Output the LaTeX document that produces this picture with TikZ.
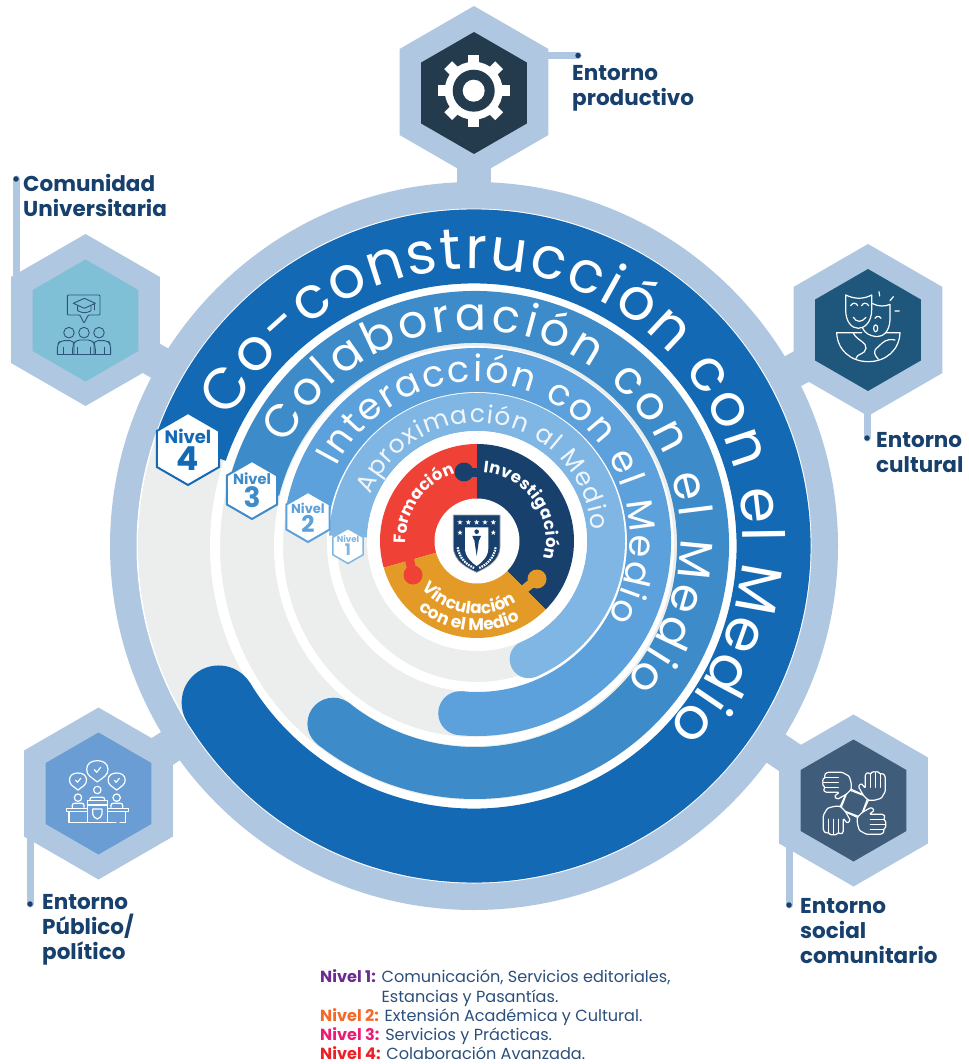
\documentclass[tikz,border=0pt]{standalone}
\usepackage{fontspec}
\setmainfont{Poppins}
\usetikzlibrary{shapes.geometric,decorations.text,calc}
\definecolor{ringc}{HTML}{B0C7E1}
\definecolor{grayc}{HTML}{ECEEEE}
\definecolor{lf}{HTML}{1369B4}
\definecolor{lt}{HTML}{3D8BC9}
\definecolor{ls}{HTML}{5CA1DB}
\definecolor{lo}{HTML}{80B6E3}
\definecolor{navy}{HTML}{17406D}
\definecolor{redc}{HTML}{EF4136}
\definecolor{orc}{HTML}{E49A26}
\definecolor{gearc}{HTML}{243B4E}
\definecolor{tealc}{HTML}{7FC0D6}
\definecolor{culc}{HTML}{1F567C}
\definecolor{socc}{HTML}{3F5D7A}
\definecolor{pubc}{HTML}{6A9DD3}
\definecolor{legc}{HTML}{2A4F7C}
\newcommand\fsz[1]{\fontsize{#1}{#1}\selectfont}
\newcommand\fa{\fsz{58}\color{white}}
\newcommand\fb{\fsz{46}\color{white}}
\newcommand\fc{\fsz{36.5}\color{white}}
\newcommand\fd{\fsz{25}\color{white!88!lo}}
\newcommand\fe{\fsz{16.5}\bfseries\color{white}}
\newcommand\ff{\fsz{17}\bfseries\color{white}}
\newlength\bw
\tikzset{
 hexbase/.style={regular polygon,regular polygon sides=6,shape border rotate=30,inner sep=0pt,outer sep=0pt},
 hexouter/.style={hexbase,minimum size=172pt,fill=ringc},
 hexinner/.style={hexbase,minimum size=122pt,fill=#1},
 disc/.style={circle,inner sep=0pt,outer sep=0pt,minimum size=#1},
 stem/.style={draw=ringc,line width=34pt},
 leader/.style={draw=ringc,line width=7pt,line cap=round},
 dotn/.style={circle,fill=navy,inner sep=0pt,minimum size=5.5pt},
 whitering/.style={draw=white,line width=#1},
 band/.style={draw=#1,line width=\bw},
 lab/.style={anchor=north west,inner sep=0pt,align=left,text=navy,font=\fontsize{21.5}{25}\selectfont\bfseries},
 lvlhex/.style={hexbase,fill=white,draw=#1,line width=2pt},
 leg/.style={anchor=base west,inner sep=0pt,text=legc,font=\fontsize{16.1}{19}\selectfont},
 ico/.style={draw=white,line width=1.2pt,line cap=round,line join=round},
}
\newcommand\bub[3]{\begin{scope}[shift={(#1,#2)},scale=#3]
 \draw[ico] (0,34) .. controls (-17,20) and (-32,15) .. (-32,-4) .. controls (-32,-22) and (-17,-30) .. (0,-30) .. controls (17,-30) and (32,-22) .. (32,-4) .. controls (32,15) and (17,20) .. (0,34) -- cycle;
 \draw[ico] (-9,-3) -- (-2,5) -- (10,-10);
\end{scope}}
\newcommand\handicon{%
 \draw[ico,rounded corners=1.2pt] (14,-3) -- (9,-8) -- (4,-17) -- (7,-20) -- (11,-15) -- (11,-29) -- (13.5,-31) -- (16,-29) -- (18.5,-32) -- (21,-31) -- (23.5,-32) -- (26,-29) -- (28.5,-30) -- (31,-27) -- (31,-12) -- (27,-5) -- (20,-3) -- cycle;
 \draw[ico] (16,-29) -- (16,-16) (21,-31) -- (21,-16) (26,-29) -- (26,-16);
 \draw[ico] (9,-8) -- (-4,-13) (14,-3) -- (9,8);}
\begin{document}
\begin{tikzpicture}[x=1pt,y=-1pt]
\useasboundingbox (0,0) rectangle (968,1064);
\coordinate (cm) at (474,546);
\coordinate (cb) at (475,545);
\coordinate (cs) at (477,542);
\coordinate (cp) at (477,541);
\coordinate (ta) at (473,539);
\coordinate (tb) at (473,538);
\coordinate (tc) at (475,537);
\coordinate (td) at (477,538);

% leaders
\coordinate (l1a) at (16,300); \coordinate (l1b) at (16,179);
\coordinate (l2a) at (530,55.5); \coordinate (l2b) at (578,55.5);
\coordinate (l3a) at (867,390); \coordinate (l3b) at (867,438);
\coordinate (l4a) at (789,840); \coordinate (l4b) at (789,905);
\coordinate (l5a) at (30,820); \coordinate (l5b) at (30,904);
\draw[leader] (l1a) -- (l1b);
\draw[leader] (l2a) -- (l2b);
\draw[leader] (l3a) -- (l3b);
\draw[leader] (l4a) -- (l4b);
\draw[leader] (l5a) -- (l5b);
\node[dotn] (d1) at (l1b) {};
\node[dotn] (d2) at (l2b) {};
\node[dotn] (d3) at (l3b) {};
\node[dotn] (d4) at (l4b) {};
\node[dotn] (d5) at (l5b) {};

% outer hexagons
\node[hexouter] (hu) at (85.5,320) {};
\node[hexouter] (hp) at (474,92) {};
\node[hexouter] (hc) at (868,330) {};
\node[hexouter] (hs) at (853.5,800.5) {};
\node[hexouter] (hb) at (98.5,793.5) {};

% stems and the disc
\draw[stem] (hu.center) -- (cm);
\draw[stem] (hp.center) -- (cm);
\draw[stem] (hc.center) -- (cm);
\draw[stem] (hs.center) -- (cm);
\draw[stem] (hb.center) -- (cm);
\node[hexinner=tealc] (iu) at (85.5,320.5) {};
\node[hexinner=gearc] (ip) at (474,93) {};
\node[hexinner=culc] (ic) at (868,330) {};
\node[hexinner=socc] (is) at (853.5,800.5) {};
\node[hexinner=pubc] (ib) at (98.5,793.5) {};
\node[disc=728pt,fill=ringc] (ring) at (cm) {};
\node[disc=675pt,fill=white] (ringw) at (cm) {};
\node[disc=672pt,fill=grayc] (gray) at (cm) {};

% white rings in the grey
\draw[whitering=10pt] (cm) circle[radius=259pt];
\draw[whitering=9pt] (cm) circle[radius=195.5pt];
\draw[whitering=10pt] (cs) circle[radius=145pt];

% bands
\setlength\bw{74pt}
\draw[band=lf] (cm) ++(161:299.5pt) arc[start angle=161,end angle=-148.5,radius=299.5pt] coordinate (e4);
\fill[lf] (e4) circle[radius=37pt];
\setlength\bw{52pt}
\draw[band=lt] (cb) ++(165.8:228pt) arc[start angle=165.8,end angle=-128.4,radius=228pt] coordinate (e3);
\fill[lt] (e3) circle[radius=26pt];
\setlength\bw{44pt}
\draw[band=ls] (cs) ++(170:172pt) arc[start angle=170,end angle=-95.6,radius=172pt] coordinate (e2);
\fill[ls] (e2) circle[radius=22pt];
\setlength\bw{38pt}
\draw[band=lo] (cp) ++(178:129pt) arc[start angle=178,end angle=-66.4,radius=129pt] coordinate (e1);
\fill[lo] (e1) circle[radius=19pt];

% curved titles
\path[decorate,decoration={text along path,text align=fit to path,text={|\fa|Co-construcción con el Medio}}]
 (ta) ++(153.5:270pt) arc[start angle=153.5,end angle=-44,radius=270pt];
\path[decorate,decoration={text along path,text align=fit to path,text={|\fb|Colaboración con el Medio}}]
 (tb) ++(153.5:208pt) arc[start angle=153.5,end angle=-43,radius=208pt];
\path[decorate,decoration={text along path,text align=fit to path,text={|\fc|Interacción con el Medio}}]
 (tc) ++(153:155pt) arc[start angle=153,end angle=-31,radius=155pt];
\path[decorate,decoration={text along path,text align=fit to path,text={|\fd|Aproximación al Medio}}]
 (td) ++(158:115pt) arc[start angle=158,end angle=4,radius=115pt];

% puzzle
\node[disc=220pt,fill=white] (pw) at (cp) {};
\fill[redc] (cp) -- ++(90:97pt) arc[start angle=90,end angle=196,radius=97pt] -- cycle;
\fill[navy] (cp) -- ++(90:97pt) arc[start angle=90,end angle=-45,radius=97pt] -- cycle;
\fill[orc] (cp) -- ++(-45:97pt) arc[start angle=-45,end angle=-164,radius=97pt] -- cycle;
\fill[navy] (464,472) circle[radius=9.5pt];
\draw[navy,line width=9pt] (464,472) -- (480,472);
\fill[orc] (537,579) circle[radius=9.5pt];
\draw[orc,line width=9pt] (537,579) -- (522,591);
\fill[redc] (413,575) circle[radius=9.5pt];
\draw[redc,line width=9pt] (413,575) -- (408,553);
\node[disc=85pt,fill=white] (pc) at (cp) {};
\path[decorate,decoration={text along path,text align=left,text={|\fe|Formación}}]
 (cp) ++(182:71pt) arc[start angle=182,end angle=95,radius=71pt];
\path[decorate,decoration={text along path,text align=fit to path,text={|\fe|Investigación}}]
 (cp) ++(85:69pt) arc[start angle=85,end angle=-15,radius=69pt];
\path[decorate,decoration={text along path,text align=center,text={|\ff|Vinculación}}]
 (cp) ++(203:73pt) arc[start angle=203,end angle=321,radius=73pt];
\path[decorate,decoration={text along path,text align=center,text={|\ff|con el Medio}}]
 (cp) ++(213:90pt) arc[start angle=213,end angle=315,radius=90pt];

% crest
\begin{scope}[shift={(420,490)},x=.3333pt,y=-.3333pt]
 \filldraw[fill=navy,draw=gray!70,line width=.7pt] (100,75) -- (240,75) -- (240,170) .. controls (240,215) and (195,235) .. (170,247) .. controls (145,235) and (100,215) .. (100,170) -- cycle;
 \fill[white] (135,112) -- (205,112) -- (205,175) .. controls (205,200) and (185,218) .. (170,228) .. controls (155,218) and (135,200) .. (135,175) -- cycle;
 \foreach \sx/\sy [count=\i] in {120/97,145/97,170/97,195/97,220/97,120/128,220/128}
  \node[star,star points=5,star point ratio=2.4,fill=white,inner sep=0pt,minimum size=5.5pt] (st\i) at (\sx,\sy) {};
 \fill[navy] (170,125) circle[radius=2.3pt];
 \fill[navy] (157,138) -- (183,138) -- (178,150) -- (162,150) -- cycle;
 \fill[navy] (163,150) -- (177,150) -- (170,198) -- cycle;
 \draw[white,line width=2.2pt,dash pattern=on 1.6pt off 1pt] (113,172) .. controls (118,205) and (140,225) .. (165,235);
 \draw[white,line width=2.2pt,dash pattern=on 1.6pt off 1pt] (227,172) .. controls (222,205) and (200,225) .. (175,235);
\end{scope}

% level hexagons
\node[lvlhex=lf,minimum size=72pt] (n4) at (188,449) {};
\node[text=lf,font=\fsz{18}\bfseries,inner sep=0pt] (n4a) at (188,436) {Nivel};
\node[text=lf,font=\fsz{33}\bfseries,inner sep=0pt] (n4b) at (188,459) {4};
\node[lvlhex=lt,minimum size=58pt] (n3) at (252,490) {};
\node[text=lt,font=\fsz{14.7}\bfseries,inner sep=0pt] (n3a) at (252,479) {Nivel};
\node[text=lt,font=\fsz{28}\bfseries,inner sep=0pt] (n3b) at (252,497) {3};
\node[lvlhex=ls,minimum size=50pt] (n2) at (308,517) {};
\node[text=ls,font=\fsz{13}\bfseries,inner sep=0pt] (n2a) at (308,508) {Nivel};
\node[text=ls,font=\fsz{23}\bfseries,inner sep=0pt] (n2b) at (308,524) {2};
\node[lvlhex=lo,minimum size=35pt,line width=1.5pt] (n1) at (348,546) {};
\node[text=lo,font=\fsz{8.7}\bfseries,inner sep=0pt] (n1a) at (348,539) {Nivel};
\node[text=lo,font=\fsz{16}\bfseries,inner sep=0pt] (n1b) at (348,550) {1};

% outer labels
\node[lab] (tu) at (23,174.5) {Comunidad\\Universitaria};
\node[lab] (tp) at (572,65.5) {Entorno\\productivo};
\node[lab] (tc) at (876,432.5) {Entorno\\cultural};
\node[lab] (ts) at (800,898.5) {Entorno\\social\\comunitario};
\node[lab] (tb) at (42,894.5) {Entorno\\Público/\\político};

% legend
\node[leg] (k1) at (320,982.5) {\textcolor[HTML]{6B2C91}{\bfseries Nivel 1:} Comunicación, Servicios editoriales,};
\node[leg] (k1b) at (381.5,1002.5) {Estancias y Pasantías.};
\node[leg] (k2) at (320,1021.5) {\textcolor[HTML]{F26A2A}{\bfseries Nivel 2:} Extensión Académica y Cultural.};
\node[leg] (k3) at (320,1040.5) {\textcolor[HTML]{EC1C75}{\bfseries Nivel 3:} Servicios y Prácticas.};
\node[leg] (k4) at (320,1059.5) {\textcolor[HTML]{EE2027}{\bfseries Nivel 4:} Colaboración Avanzada.};

% gear icon
\coordinate (gc) at (473.7,90.7);
\foreach \a in {0,45,...,315} {\draw[white,line width=11pt] (gc) -- ++(\a:36pt);}
\fill[white] (gc) circle[radius=29pt];
\fill[gearc] (gc) circle[radius=21pt];
\fill[white] (gc) circle[radius=11pt];

% university community icon
\begin{scope}[shift={(0,160)},x=.3333pt,y=-.3333pt]
 \tikzset{icd/.style={draw=navy!90,line width=.9pt,line join=round,line cap=round}}
 \draw[icd,rounded corners=1pt] (202,405) -- (300,405) -- (300,465) -- (265,465) -- (252,490) -- (240,465) -- (202,465) -- cycle;
 \draw[icd] (253,415) -- (286,430) -- (253,445) -- (220,430) -- cycle;
 \draw[icd] (233,438) -- (233,452) .. controls (245,460) and (262,460) .. (273,452) -- (273,438);
 \draw[icd] (282,432) -- (282,450);
 \foreach \hx in {207,252,297} {\draw[icd] (\hx,518) circle[radius=5.3pt];}
 \draw[icd,rounded corners=4pt] (172,582) -- (172,555) -- (180,542) -- (222,542) -- (222,582);
 \draw[icd,rounded corners=4pt] (282,582) -- (282,542) -- (325,542) -- (332,555) -- (332,582);
 \draw[icd,rounded corners=4pt] (218,582) -- (218,555) -- (228,540) -- (276,540) -- (286,555) -- (286,582);
 \draw[icd] (172,582) -- (332,582);
 \draw[icd] (190,562) -- (190,582) (232,562) -- (232,582) (272,562) -- (272,582) (314,562) -- (314,582);
\end{scope}

% masks icon
\begin{scope}[shift={(780,260)},x=.3333pt,y=-.3333pt]
 \draw[ico] (197,105) .. controls (225,118) and (250,118) .. (275,105) -- (275,150) .. controls (275,185) and (255,205) .. (235,205) .. controls (215,205) and (197,185) .. (197,150) -- cycle;
 \draw[ico] (212,137) .. controls (218,127) and (228,127) .. (233,137) (245,137) .. controls (250,127) and (260,127) .. (266,137);
 \draw[ico] (220,172) .. controls (230,188) and (245,188) .. (258,172);
 \draw[ico] (278,131) .. controls (295,140) and (315,140) .. (330,133) -- (330,180) .. controls (328,215) and (310,230) .. (290,230) .. controls (270,228) and (255,220) .. (248,205);
 \draw[ico] (287,205) circle[x radius=2pt,y radius=3.5pt];
 \draw[ico] (285,175) .. controls (290,167) and (298,167) .. (303,175);
 \draw[ico] (297,95) -- (299,108) (340,110) -- (330,122) (345,153) -- (358,153);
 \draw[ico] (245,218) -- (170,218) .. controls (172,270) and (212,305) .. (265,305) .. controls (318,305) and (358,270) .. (360,218) -- (318,218);
 \draw[ico] (220,220) .. controls (235,245) and (260,245) .. (258,265) .. controls (255,285) and (230,280) .. (228,295);
 \draw[ico] (345,240) .. controls (320,235) and (310,245) .. (295,260) .. controls (275,275) and (285,285) .. (295,298);
\end{scope}

% hands icon
\foreach \r in {0,90,180,270} {
 \begin{scope}[shift={(854.3,803.3)},rotate=\r]
  \handicon
 \end{scope}
}

% assembly icon
\begin{scope}[shift={(10,700)},x=.3333pt,y=-.3333pt]
 \bub{262}{212}{1}
 \bub{204}{243}{.8}
 \bub{320}{243}{.8}
 \foreach \hx/\hy in {262/270,204/293,320/293} {\draw[ico] (\hx,\hy) circle[radius=3.7pt];}
 \draw[ico,rounded corners=2pt] (240,302) -- (240,292) -- (284,292) -- (284,302);
 \draw[ico,rounded corners=2pt] (187,322) -- (187,310) -- (222,310) -- (222,322);
 \draw[ico,rounded corners=2pt] (303,322) -- (303,310) -- (338,310) -- (338,322);
 \draw[ico] (232,315) -- (232,302) -- (292,302) -- (292,315);
 \draw[ico] (170,325) rectangle (232,335) (292,325) rectangle (355,335);
 \draw[ico] (232,315) -- (292,315);
 \draw[ico] (177,335) -- (177,367) -- (318,367) (330,367) -- (347,367) -- (347,335);
 \draw[ico] (232,315) -- (232,367) (292,315) -- (292,367);
 \draw[ico] (248,327) -- (276,327) -- (276,342) .. controls (276,350) and (268,354) .. (262,357) .. controls (256,354) and (248,350) .. (248,342) -- cycle;
\end{scope}
\end{tikzpicture}
\end{document}
